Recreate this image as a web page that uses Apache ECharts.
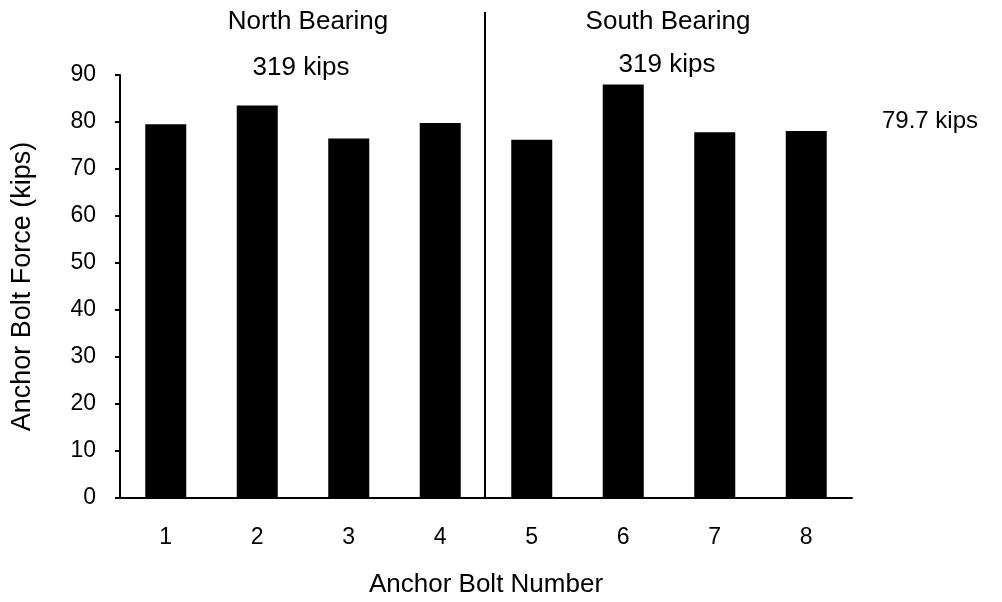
<!DOCTYPE html>
<html>
<head>
<meta charset="utf-8">
<script src="https://cdn.jsdelivr.net/npm/echarts@6/dist/echarts.min.js"></script>
<style>
  html, body { margin: 0; padding: 0; background: #fff; }
  #chart { width: 1002px; height: 602px; }
</style>
</head>
<body>
<div id="chart"></div>
<script>
// bolt numbers and forces (kips)
var boltNumbers = ['1', '2', '3', '4', '5', '6', '7', '8'];
var boltForces = [79.5, 83.5, 76.5, 79.8, 76.2, 88.0, 77.8, 78.1];
var yTicks = [0, 10, 20, 30, 40, 50, 60, 70, 80, 90];

var FONT = 'Liberation Sans';

var chart = echarts.init(document.getElementById('chart'));

var option = {
    backgroundColor: '#fff',
    animation: false,
    grid: { left: 120, right: 150, top: 75, bottom: 104, containLabel: false, outerBoundsMode: 'none' },
    xAxis: {
        type: 'category',
        data: boltNumbers,
        name: 'Anchor Bolt Number',
        nameLocation: 'middle',
        nameGap: 74,
        nameTextStyle: { fontFamily: FONT, fontSize: 26, color: '#000' },
        axisLine: { lineStyle: { color: '#000', width: 2 } },
        axisTick: { inside: true, length: 6, lineStyle: { color: '#000', width: 2 } },
        axisLabel: { fontFamily: FONT, fontSize: 23, color: '#000', margin: 28 },
        splitLine: { show: false }
    },
    yAxis: {
        type: 'value',
        min: yTicks[0],
        max: yTicks[yTicks.length - 1],
        interval: 10,
        name: 'Anchor Bolt Force (kips)',
        nameLocation: 'middle',
        nameGap: 84,
        nameTextStyle: { fontFamily: FONT, fontSize: 27, color: '#000' },
        axisLine: { show: true, lineStyle: { color: '#000', width: 2 } },
        axisTick: { show: true, length: 5, lineStyle: { color: '#000', width: 2 } },
        axisLabel: { fontFamily: FONT, fontSize: 23, color: '#000', margin: 24 },
        splitLine: { show: false }
    },
    series: [{
        type: 'bar',
        data: boltForces,
        barWidth: 41,
        itemStyle: { color: '#000' }
    }],
    graphic: [
        { type: 'line', shape: { x1: 485, y1: 12, x2: 485, y2: 498 }, style: { stroke: '#000', lineWidth: 2 } },
        { type: 'text', x: 308, y: 22, style: { text: 'North Bearing', font: '26px ' + FONT, fill: '#000', textAlign: 'center', textVerticalAlign: 'middle' } },
        { type: 'text', x: 301, y: 68, style: { text: '319 kips', font: '26px ' + FONT, fill: '#000', textAlign: 'center', textVerticalAlign: 'middle' } },
        { type: 'text', x: 668, y: 22, style: { text: 'South Bearing', font: '26px ' + FONT, fill: '#000', textAlign: 'center', textVerticalAlign: 'middle' } },
        { type: 'text', x: 667, y: 65, style: { text: '319 kips', font: '26px ' + FONT, fill: '#000', textAlign: 'center', textVerticalAlign: 'middle' } },
        { type: 'text', x: 930, y: 121, style: { text: '79.7 kips', font: '24px ' + FONT, fill: '#000', textAlign: 'center', textVerticalAlign: 'middle' } }
    ]
};

chart.setOption(option);
</script>
</body>
</html>
